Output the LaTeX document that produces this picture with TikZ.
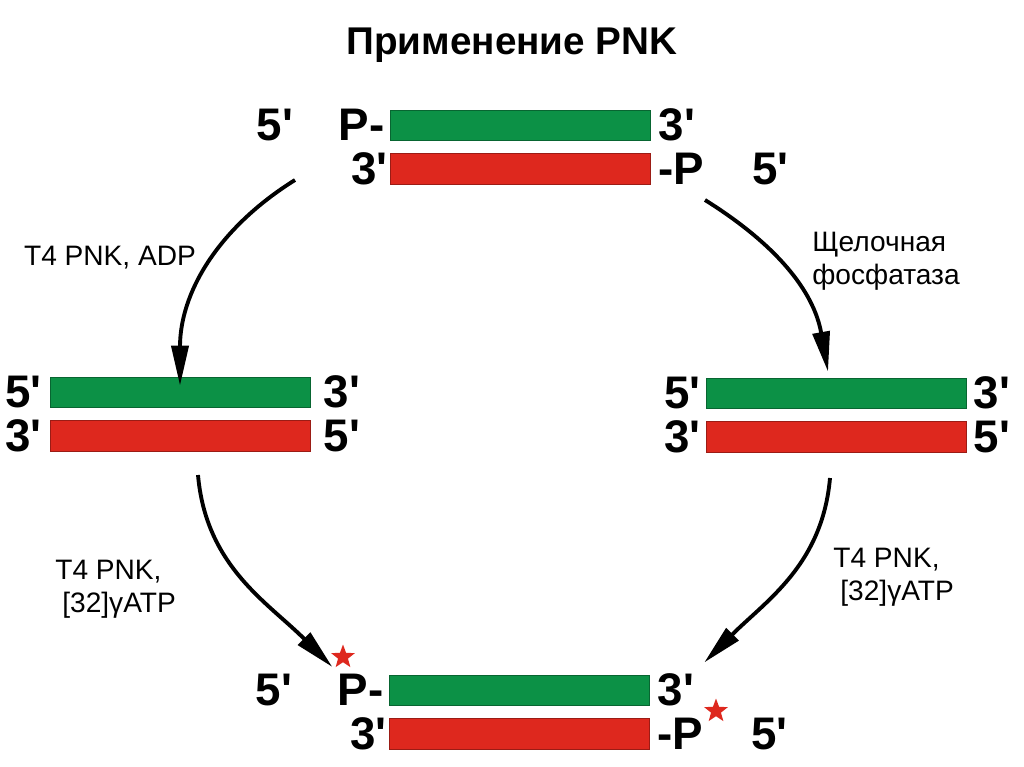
\documentclass[tikz,border=0pt]{standalone}
\usepackage{fontspec}
\setmainfont{Liberation Sans}
\usepackage{tikz}
\usetikzlibrary{shapes.geometric, arrows.meta, positioning}
\definecolor{dnagreen}{RGB}{12,145,70}
\definecolor{dnared}{RGB}{222,40,30}
\newcommand{\qs}{\textquotesingle}

\begin{document}
\begin{tikzpicture}[
    x=0.02cm, y=0.02cm,
    node distance=0.1cm,
    fwd/.style={rectangle, draw=dnagreen!70!black, line width=0.4pt, fill=dnagreen,
                minimum width=5.2cm, minimum height=0.6cm, inner sep=0pt},
    rev/.style={rectangle, draw=dnared!70!black, line width=0.4pt, fill=dnared,
                minimum width=5.2cm, minimum height=0.62cm, inner sep=0pt},
    endlbl/.style={inner sep=0pt, font=\fontsize{26}{30}\selectfont\bfseries},
    enz/.style={inner sep=0pt, align=left, font=\fontsize{16}{18.5}\selectfont},
    label32/.style={fill=dnared, star, star points=5, star point ratio=2.4,
                    minimum size=0.5cm, inner sep=0pt},
    arr/.style={-{Triangle[length=0.8cm, width=0.34cm]}, line width=2.2pt}
]
\useasboundingbox (0,0) rectangle (1024,-767);

\node[font=\fontsize{22}{26}\selectfont\bfseries] (title) at (512,-45) {Применение PNK};

% top duplex
\node[fwd] (tG) at (520,-125) {};
\node[rev, below=0.26cm of tG] (tR) {};
\node[endlbl, left=0.1cm of tG]  (tP1) {P-};
\node[endlbl, left=0.9cm of tP1] (t51) {5\qs};
\node[endlbl, right=0.16cm of tG] (t31) {3\qs};
\node[endlbl, left=0.04cm of tR]  (t32) {3\qs};
\node[endlbl, right=0.16cm of tR] (tP2) {-P};
\node[endlbl, right=0.94cm of tP2] (t52) {5\qs};

% left duplex
\node[fwd] (lG) at (180,-392) {};
\node[rev, below=0.26cm of lG] (lR) {};
\node[endlbl, left=0.16cm of lG]  (l51) {5\qs};
\node[endlbl, right=0.26cm of lG] (l31) {3\qs};
\node[endlbl, left=0.16cm of lR]  (l32) {3\qs};
\node[endlbl, right=0.26cm of lR] (l52) {5\qs};

% right duplex
\node[fwd] (rG) at (836,-393) {};
\node[rev, below=0.26cm of rG] (rR) {};
\node[endlbl, left=0.1cm of rG]  (r51) {5\qs};
\node[endlbl, right=0.14cm of rG] (r31) {3\qs};
\node[endlbl, left=0.1cm of rR]  (r32) {3\qs};
\node[endlbl, right=0.14cm of rR] (r52) {5\qs};

% bottom duplex
\node[fwd] (bG) at (519,-690) {};
\node[rev, below=0.26cm of bG] (bR) {};
\node[endlbl, left=0.1cm of bG]  (bP1) {P-};
\node[endlbl, left=0.9cm of bP1] (b51) {5\qs};
\node[endlbl, right=0.16cm of bG] (b31) {3\qs};
\node[endlbl, left=0.04cm of bR]  (b32) {3\qs};
\node[endlbl, right=0.16cm of bR] (bP2) {-P};
\node[endlbl, right=0.94cm of bP2] (b52) {5\qs};
\node[label32] (s1) at (343,-657) {};
\node[label32] (s2) at (716,-711) {};

% enzymes
\node[enz] (adp) at (110,-258) {T4 PNK, ADP};
\node[enz, anchor=north west] (phos) at (812,-232) {Щелочная\\фосфатаза};
\node[enz, anchor=north west] (atpL) at (55,-560) {T4 PNK,\\\hspace{0.14cm}[32]γATP};
\node[enz, anchor=north west] (atpR) at (833,-548) {T4 PNK,\\\hspace{0.14cm}[32]γATP};

\coordinate (a1) at (295,-180);
\coordinate (a2) at (705,-200);
\coordinate (a3) at (198,-475);
\coordinate (a4) at (830,-478);
\draw[arr] (a1) to[out=212, in=90] ([yshift=-0.18cm]lG.north);
\draw[arr] (a2) to[out=-32, in=100] ([xshift=-0.16cm, yshift=0.12cm]rG.north);
\draw[arr] (a3) to[out=-85, in=135] ([xshift=-0.1cm, yshift=0.14cm]bP1.north west);
\draw[arr] (a4) to[out=-95, in=45] ([xshift=0.2cm, yshift=0.22cm]b31.north east);
\end{tikzpicture}
\end{document}
